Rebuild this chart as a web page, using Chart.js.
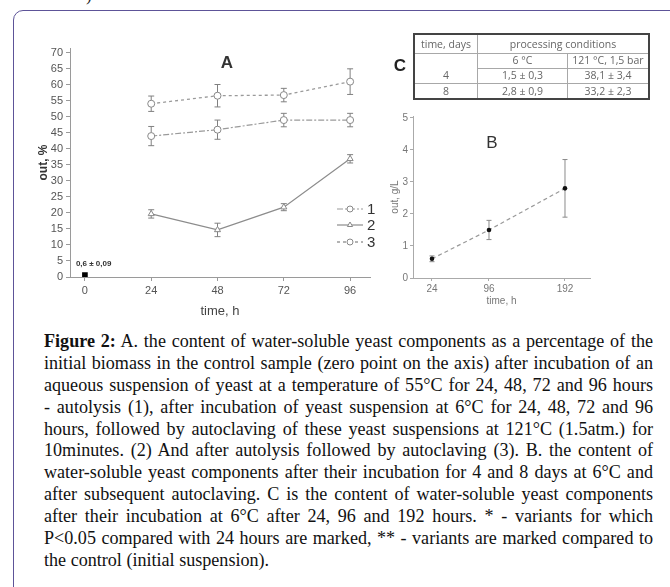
<!DOCTYPE html>
<html>
<head>
<meta charset="utf-8">
<script src="https://cdn.jsdelivr.net/npm/chart.js@4.4.1/dist/chart.umd.min.js"></script>
<style>
    html, body { margin: 0; padding: 0; background: #fff; }
    body { width: 670px; height: 587px; position: relative; overflow: hidden; font-family: "Liberation Sans", Arial, sans-serif; }
    #frame { position: absolute; left: 13px; top: 10px; width: 720px; height: 700px; border: 1.5px solid #5d5498; border-radius: 10px 0 0 0; }
    .cut { position: absolute; left: 86px; top: -14px; font: 17px "Liberation Serif", serif; color: #222; }
    canvas { position: absolute; }
    #chartA { left: 0; top: 30px; }
    #chartB { left: 380px; top: 100px; }
    .panel { position: absolute; transform: translate(-50%, -50%); color: #333; font-size: 17px; line-height: 1; }
    #tableC { position: absolute; left: 413px; top: 33px; width: 237px; height: 65px; box-sizing: border-box;
              border-collapse: collapse; border: 2px solid #444; font: 10.5px "Open Sans", "Noto Sans", sans-serif; color: #666; }
    #tableC td { border: 1px solid #a8a8a8; text-align: center; padding: 0; line-height: 1; }
    #caption { position: absolute; left: 44px; top: 331px; width: 609px; font-family: "Liberation Serif", "Times New Roman", serif; font-size: 18.1px; color: #111; }
    #caption div { height: 21.9px; line-height: 21.9px; white-space: nowrap; text-align: justify; text-align-last: justify; }
    #caption div.last { text-align-last: left; }
</style>
</head>
<body>
<div id="frame"></div>
<div class="cut">)</div>

<canvas id="chartA" width="380" height="290"></canvas>
<canvas id="chartB" width="230" height="210"></canvas>

<div class="panel" style="left:227px; top:62px; font-weight:bold;">A</div>
<div class="panel" style="left:492px; top:142px;">B</div>
<div class="panel" style="left:400px; top:65px; font-weight:bold; color:#222;">C</div>

<table id="tableC"></table>

<div id="caption">
    <div><b>Figure 2:</b> A. the content of water-soluble yeast components as a percentage of the</div>
    <div>initial biomass in the control sample (zero point on the axis) after incubation of an</div>
    <div>aqueous suspension of yeast at a temperature of 55°C for 24, 48, 72 and 96 hours</div>
    <div>- autolysis (1), after incubation of yeast suspension at 6°C for 24, 48, 72 and 96</div>
    <div>hours, followed by autoclaving of these yeast suspensions at 121°C (1.5atm.) for</div>
    <div>10minutes. (2) And after autolysis followed by autoclaving (3). B. the content of</div>
    <div>water-soluble yeast components after their incubation for 4 and 8 days at 6°C and</div>
    <div>after subsequent autoclaving. C is the content of water-soluble yeast components</div>
    <div>after their incubation at 6°C after 24, 96 and 192 hours. * - variants for which</div>
    <div>P&lt;0.05 compared with 24 hours are marked, ** - variants are marked compared to</div>
    <div class="last">the control (initial suspension).</div>
</div>

<script>
// Panel A data (yield, % of initial biomass)
const hoursA = [24, 48, 72, 96];
const autolysis = [44, 46, 49, 49];              // 1
const autolysisErr = [3, 3, 2.1, 2.1];
const coldAutoclave = [19.7, 14.7, 21.8, 36.9];  // 2
const coldAutoclaveErr = [1.3, 2.1, 1.1, 1.3];
const autolysisAutoclave = [54.1, 56.6, 56.8, 61]; // 3
const autolysisAutoclaveErr = [2.4, 3.5, 2.1, 4];
const controlHour = [0];
const controlValue = [0.6];
const controlLabel = '0,6 ± 0,09';
const ticksAX = [0, 24, 48, 72, 96];
const ticksAY = [0, 5, 10, 15, 20, 25, 30, 35, 40, 45, 50, 55, 60, 65, 70];

// Panel B data (g/L)
const hoursB = [24, 96, 192];
const valuesB = [0.6, 1.5, 2.8];
const errorsB = [0.09, 0.3, 0.9];
const ticksBX = [24, 96, 192];
const ticksBY = [0, 1, 2, 3, 4, 5];

// Panel C table
const tableHead = ['time, days', 'processing conditions'];
const tableConditions = ['6 °C', '121 °C, 1,5 bar'];
const tableDays = ['4', '8'];
const tableCold = ['1,5 ± 0,3', '2,8 ± 0,9'];
const tableAutoclaved = ['38,1 ± 3,4', '33,2 ± 2,3'];

// Build table C
(function buildTable() {
    const t = document.getElementById('tableC');
    let html = `<tr style="height:19px"><td style="width:62px">${tableHead[0]}</td><td colspan="2">${tableHead[1]}</td></tr>`;
    html += `<tr style="height:15px"><td style="border-bottom:none"></td><td style="width:89px">${tableConditions[0]}</td><td>${tableConditions[1]}</td></tr>`;
    tableDays.forEach((d, i) => {
        const h = i === 0 ? 15 : 16;
        const topB = i === 0 ? 'border-top:none;' : 'border-top-color:#e2e2e2;';
        const cellB = i === 0 ? '' : 'border-top-color:#e2e2e2;';
        html += `<tr style="height:${h}px"><td style="${topB}">${d}</td><td style="${cellB}">${tableCold[i]}</td><td style="${cellB}">${tableAutoclaved[i]}</td></tr>`;
    });
    t.innerHTML = html;
})();

const toPoints = (xs, ys) => xs.map((x, i) => ({ x: x, y: ys[i] }));

// Error bars drawn through the chart scales
const errorBars = {
    id: 'errorBars',
    beforeDatasetsDraw(chart, args, opts) {
        const { ctx, scales: { x, y } } = chart;
        chart.data.datasets.forEach(ds => {
            if (!ds.errors) return;
            ctx.save();
            ctx.strokeStyle = opts.color;
            ctx.lineWidth = opts.width;
            ds.data.forEach((pt, j) => {
                const px = x.getPixelForValue(pt.x);
                const top = y.getPixelForValue(pt.y + ds.errors[j]);
                const bot = y.getPixelForValue(pt.y - ds.errors[j]);
                ctx.beginPath();
                ctx.moveTo(px, top); ctx.lineTo(px, bot);
                ctx.moveTo(px - opts.cap, top); ctx.lineTo(px + opts.cap, top);
                ctx.moveTo(px - opts.cap, bot); ctx.lineTo(px + opts.cap, bot);
                ctx.stroke();
            });
            ctx.restore();
        });
    }
};

// Legend for panel A: line sample with marker, then number
const legendA = {
    id: 'legendA',
    afterDraw(chart) {
        const ctx = chart.ctx;
        const rows = [179, 195, 212];
        chart.data.datasets.slice(0, 3).forEach((ds, i) => {
            const y = rows[i];
            ctx.save();
            ctx.strokeStyle = ds.borderColor;
            ctx.lineWidth = ds.borderWidth;
            ctx.setLineDash(ds.borderDash || []);
            ctx.beginPath();
            ctx.moveTo(337, y); ctx.lineTo(363, y);
            ctx.stroke();
            ctx.setLineDash([]);
            ctx.fillStyle = '#fff';
            ctx.strokeStyle = ds.pointBorderColor;
            ctx.lineWidth = 1;
            Chart.helpers.drawPoint(ctx, { pointStyle: ds.pointStyle, radius: 3, borderWidth: 1 }, 350, y);
            ctx.fillStyle = '#333';
            ctx.font = '15px "Liberation Sans", Arial, sans-serif';
            ctx.textBaseline = 'middle';
            ctx.fillText(ds.label, 367, y + 1);
            ctx.restore();
        });
    }
};

// Control label above the zero point
const controlText = {
    id: 'controlText',
    afterDatasetsDraw(chart) {
        const pt = chart.getDatasetMeta(3).data[0];
        const ctx = chart.ctx;
        ctx.save();
        ctx.fillStyle = '#333';
        ctx.font = 'bold 8px "Liberation Sans", Arial, sans-serif';
        ctx.textBaseline = 'middle';
        ctx.fillText(controlLabel, pt.x - 9, pt.y - 11);
        ctx.restore();
    }
};

const axisGray = '#9a9a9a';

new Chart(document.getElementById('chartA'), {
    type: 'scatter',
    data: {
        datasets: [
            {
                label: '1',
                data: toPoints(hoursA, autolysis),
                errors: autolysisErr,
                showLine: true,
                borderColor: '#9a9a9a',
                borderWidth: 1.2,
                borderDash: [6, 2, 2, 2],
                pointStyle: 'circle',
                pointRadius: 3.5,
                pointBackgroundColor: '#fff',
                pointBorderColor: '#888',
                pointBorderWidth: 1
            },
            {
                label: '2',
                data: toPoints(hoursA, coldAutoclave),
                errors: coldAutoclaveErr,
                showLine: true,
                borderColor: '#8c8c8c',
                borderWidth: 1.2,
                pointStyle: 'triangle',
                pointRadius: 3.5,
                pointBackgroundColor: '#fff',
                pointBorderColor: '#888',
                pointBorderWidth: 1
            },
            {
                label: '3',
                data: toPoints(hoursA, autolysisAutoclave),
                errors: autolysisAutoclaveErr,
                showLine: true,
                borderColor: '#9a9a9a',
                borderWidth: 1.3,
                borderDash: [3, 3],
                pointStyle: 'circle',
                pointRadius: 3.5,
                pointBackgroundColor: '#fff',
                pointBorderColor: '#888',
                pointBorderWidth: 1
            },
            {
                label: 'control',
                data: toPoints(controlHour, controlValue),
                pointStyle: 'rect',
                pointRadius: 4,
                pointBackgroundColor: '#000',
                pointBorderColor: '#000',
                pointBorderWidth: 0
            }
        ]
    },
    options: {
        responsive: false,
        animation: false,
        events: [],
        layout: { padding: { top: 18, right: 10, left: 0, bottom: 0 } },
        plugins: {
            legend: { display: false },
            tooltip: { enabled: false },
            errorBars: { color: '#808080', width: 1, cap: 3 }
        },
        scales: {
            x: {
                type: 'linear',
                min: -5.4,
                max: 103.2,
                afterBuildTicks: s => { s.ticks = ticksAX.map(v => ({ value: v })); },
                afterFit: s => { s.height = 43; },
                grid: { drawOnChartArea: false, color: axisGray, tickLength: 4 },
                border: { color: axisGray },
                ticks: { color: '#555', autoSkip: false, maxRotation: 0, padding: 3, font: { size: 11, family: '"Liberation Sans", Arial' } },
                title: { display: true, text: 'time, h', color: '#444', font: { size: 13, family: '"Liberation Sans", Arial' }, padding: { top: 0, bottom: 1 } }
            },
            y: {
                min: 0,
                max: 71.5,
                afterBuildTicks: s => { s.ticks = ticksAY.map(v => ({ value: v })); },
                afterFit: s => { s.width = 70; },
                grid: { drawOnChartArea: false, color: axisGray, tickLength: 4 },
                border: { color: axisGray },
                ticks: { color: '#555', autoSkip: false, padding: 3, font: { size: 11, family: '"Liberation Sans", Arial' } },
                title: { display: true, text: 'out, %', color: '#333', font: { size: 12, weight: 'bold', family: '"Liberation Sans", Arial' }, padding: { top: 36, bottom: 0 } }
            }
        }
    },
    plugins: [errorBars, legendA, controlText]
});

new Chart(document.getElementById('chartB'), {
    type: 'scatter',
    data: {
        datasets: [{
            label: 'B',
            data: toPoints(hoursB, valuesB),
            errors: errorsB,
            showLine: true,
            borderColor: '#999',
            borderWidth: 1.2,
            borderDash: [4, 3],
            pointStyle: 'circle',
            pointRadius: 2.3,
            pointBackgroundColor: '#111',
            pointBorderColor: '#111',
            pointBorderWidth: 0
        }]
    },
    options: {
        responsive: false,
        animation: false,
        events: [],
        layout: { padding: { top: 16, right: 20, left: 0, bottom: 0 } },
        plugins: {
            legend: { display: false },
            tooltip: { enabled: false },
            errorBars: { color: '#8a8a8a', width: 1, cap: 2.5 }
        },
        scales: {
            x: {
                type: 'linear',
                min: 0,
                max: 223.6,
                afterBuildTicks: s => { s.ticks = ticksBX.map(v => ({ value: v })); },
                afterFit: s => { s.height = 32; },
                grid: { drawOnChartArea: false, color: '#aaa', tickLength: 3 },
                border: { color: '#aaa' },
                ticks: { color: '#777', autoSkip: false, maxRotation: 0, padding: 2, font: { size: 10, family: '"Liberation Sans", Arial' } },
                title: { display: true, text: 'time, h', color: '#777', font: { size: 10, family: '"Liberation Sans", Arial' }, padding: { top: 0, bottom: 3 } }
            },
            y: {
                min: 0,
                max: 5.06,
                afterBuildTicks: s => { s.ticks = ticksBY.map(v => ({ value: v })); },
                afterFit: s => { s.width = 33; },
                grid: { drawOnChartArea: false, color: '#aaa', tickLength: 3 },
                border: { color: '#aaa' },
                ticks: { color: '#777', autoSkip: false, padding: 2, font: { size: 10, family: '"Liberation Sans", Arial' } },
                title: { display: true, text: 'out, g/L', color: '#777', font: { size: 10, family: '"Liberation Sans", Arial' }, padding: { top: 9, bottom: 0 } }
            }
        }
    },
    plugins: [errorBars]
});
</script>
</body>
</html>
